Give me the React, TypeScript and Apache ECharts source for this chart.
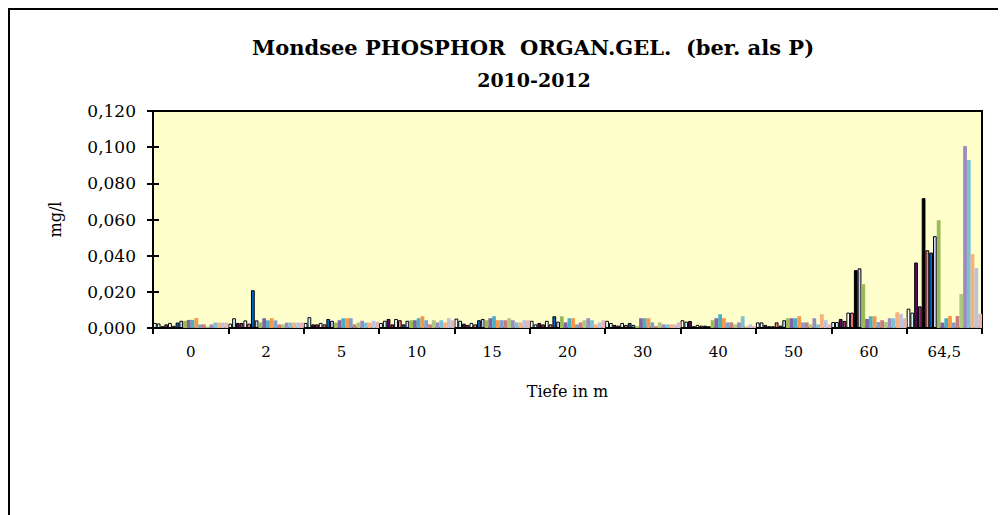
import React, { useEffect, useRef } from "react";
import * as echarts from "echarts";

const categories = ["0", "2", "5", "10", "15", "20", "30", "40", "50", "60", "64,5"];
const yTicks = { min: 0, max: 0.12, interval: 0.02 };

const serie01 = [0.0028, 0.0024, 0.0028, 0.0028, 0.0052, 0.004, 0.004, 0.0043, 0.0031, 0.0033, 0.0107];
const serie02 = [0.0025, 0.0054, 0.006, 0.004, 0.004, 0.002, 0.0028, 0.0035, 0.0031, 0.0033, 0.0085];
const serie03 = [0.001, 0.0028, 0.002, 0.005, 0.0024, 0.0028, 0.0017, 0.0039, 0.0017, 0.005, 0.0362];
const serie04 = [0.002, 0.0028, 0.002, 0.002, 0.0017, 0.002, 0.0013, 0.001, 0.001, 0.0039, 0.012];
const serie05 = [0.0028, 0.0042, 0.0028, 0.005, 0.0028, 0.004, 0.0028, 0.0017, 0.001, 0.0085, 0.0718];
const serie06 = [0.0012, 0.0024, 0.002, 0.0043, 0.002, 0.002, 0.0017, 0.0013, 0.0031, 0.0085, 0.043];
const serie07 = [0.003, 0.0209, 0.005, 0.002, 0.0043, 0.0065, 0.0028, 0.0013, 0.0013, 0.032, 0.0417];
const serie08 = [0.004, 0.0042, 0.004, 0.004, 0.005, 0.0035, 0.0017, 0.001, 0.0043, 0.033, 0.0508];
const serie09 = [0.004, 0.0031, 0.003, 0.0043, 0.0043, 0.0065, 0.001, 0.0043, 0.0054, 0.0242, 0.0596];
const serie10 = [0.0045, 0.0054, 0.0043, 0.0043, 0.0054, 0.0031, 0.0054, 0.0054, 0.0054, 0.005, 0.003];
const serie11 = [0.0045, 0.0042, 0.0054, 0.0054, 0.0065, 0.0054, 0.0054, 0.0076, 0.0054, 0.0065, 0.0054];
const serie12 = [0.0055, 0.0054, 0.0054, 0.0065, 0.0043, 0.0054, 0.0054, 0.0054, 0.0065, 0.0065, 0.0066];
const serie13 = [0.002, 0.0042, 0.0054, 0.0043, 0.0043, 0.002, 0.0031, 0.0031, 0.0031, 0.0033, 0.003];
const serie14 = [0.002, 0.002, 0.002, 0.002, 0.0043, 0.0031, 0.001, 0.0031, 0.0031, 0.0043, 0.0066];
const serie15 = [0.0008, 0.002, 0.003, 0.0043, 0.0054, 0.0043, 0.0031, 0.002, 0.002, 0.0033, 0.0188];
const serie16 = [0.002, 0.003, 0.004, 0.0031, 0.0043, 0.0054, 0.002, 0.0031, 0.0054, 0.0054, 0.1006];
const serie17 = [0.003, 0.003, 0.003, 0.0043, 0.0031, 0.0043, 0.002, 0.0065, 0.002, 0.0054, 0.0929];
const serie18 = [0.003, 0.003, 0.003, 0.0031, 0.0031, 0.002, 0.002, 0.001, 0.0076, 0.0087, 0.0408];
const serie19 = [0.003, 0.003, 0.004, 0.0054, 0.0043, 0.0031, 0.002, 0.002, 0.0043, 0.0078, 0.0331];
const serie20 = [0.003, 0.003, 0.0035, 0.0043, 0.0043, 0.0043, 0.0031, 0.001, 0.002, 0.0054, 0.0078];

const allSeries = [
  serie01, serie02, serie03, serie04, serie05, serie06, serie07, serie08, serie09, serie10,
  serie11, serie12, serie13, serie14, serie15, serie16, serie17, serie18, serie19, serie20,
];

const colors = [
  "#FFFFFF", "#CCFFFF", "#660066", "#993366", "#FFFFFF", "#FF8080", "#0066CC", "#CCCCFF",
  "#9BBB59", "#8064A2", "#4BACC6", "#F79646", "#7F9FD0", "#C87D7B", "#B0C77F", "#9B8CC0",
  "#7FBFD5", "#F9B07F", "#BAC3DE", "#E2B7B6",
];
const borderedCount = 8;
// bars that render as solid black in the reference (series index, category index)
const darkRendered: [number, number][] = [[4, 10], [6, 9]];

const SERIF = "'DejaVu Serif', 'Liberation Serif', serif";

export default function App() {
  const ref = useRef<HTMLDivElement>(null);
  useEffect(() => {
    if (!ref.current) return;
    const chart = echarts.init(ref.current, null, { renderer: "svg" });
    const series = allSeries.map((vals, si) => ({
      name: "Serie " + (si + 1),
      type: "bar",
      yAxisIndex: 0,
      barGap: "0%",
      barCategoryGap: "0%",
      itemStyle: {
        color: colors[si],
        borderColor: "#000",
        borderWidth: si < borderedCount ? 1 : 0,
      },
      data: vals.map((v, ci) =>
        darkRendered.some(([s, c]) => s === si && c === ci)
          ? { value: v, itemStyle: { color: "#000" } }
          : v
      ),
    }));
    chart.setOption({
      animation: false,
      backgroundColor: "#fff",
      grid: {
        left: 143,
        top: 101,
        width: 829,
        height: 217,
        show: true,
        backgroundColor: "#FFFFCC",
        borderColor: "#000",
        borderWidth: 2,
      },
      graphic: [
        {
          type: "text",
          x: 523,
          y: 37,
          style: {
            text: "Mondsee PHOSPHOR  ORGAN.GEL.  (ber. als P)",
            fontFamily: SERIF,
            fontWeight: "bold",
            fontSize: 21,
            fill: "#000",
            textAlign: "center",
            textVerticalAlign: "middle",
          },
        },
        {
          type: "text",
          x: 524,
          y: 70,
          style: {
            text: "2010-2012",
            fontFamily: SERIF,
            fontWeight: "bold",
            fontSize: 19,
            fill: "#000",
            textAlign: "center",
            textVerticalAlign: "middle",
          },
        },
      ],
      xAxis: {
        type: "category",
        data: categories,
        name: "Tiefe in m",
        nameLocation: "middle",
        nameGap: 55,
        nameTextStyle: { fontFamily: SERIF, fontSize: 16, color: "#000" },
        axisLine: { show: true, lineStyle: { color: "#000", width: 2 } },
        axisTick: { show: true, length: 6, lineStyle: { color: "#000", width: 2 } },
        axisLabel: { fontFamily: SERIF, fontSize: 15, color: "#000", margin: 16 },
        splitLine: { show: false },
      },
      yAxis: [
        {
          type: "value",
          min: yTicks.min,
          max: yTicks.max,
          interval: yTicks.interval,
          name: "mg/l",
          nameLocation: "middle",
          nameGap: 90,
          nameRotate: 90,
          nameTextStyle: { fontFamily: SERIF, fontSize: 16, color: "#000" },
          axisLine: { show: true, lineStyle: { color: "#000", width: 2 } },
          axisTick: { show: true, length: 6, lineStyle: { color: "#000", width: 2 } },
          axisLabel: {
            fontFamily: SERIF,
            fontSize: 17,
            color: "#000",
            margin: 17,
            formatter: (v: number) => v.toFixed(3).replace(".", ","),
          },
          splitLine: { show: false },
        },
        {
          type: "value",
          min: yTicks.min,
          max: yTicks.max,
          interval: yTicks.interval,
          position: "left",
          axisLine: { show: false },
          axisTick: { show: true, inside: true, length: 6, lineStyle: { color: "#000", width: 2 } },
          axisLabel: { show: false },
          splitLine: { show: false },
        },
      ],
      series,
    });
    return () => chart.dispose();
  }, []);
  return (
    <div
      style={{
        width: 992,
        height: 530,
        boxSizing: "border-box",
        border: "2px solid #000",
        background: "#fff",
      }}
    >
      <div ref={ref} style={{ width: 988, height: 526 }} />
    </div>
  );
}
